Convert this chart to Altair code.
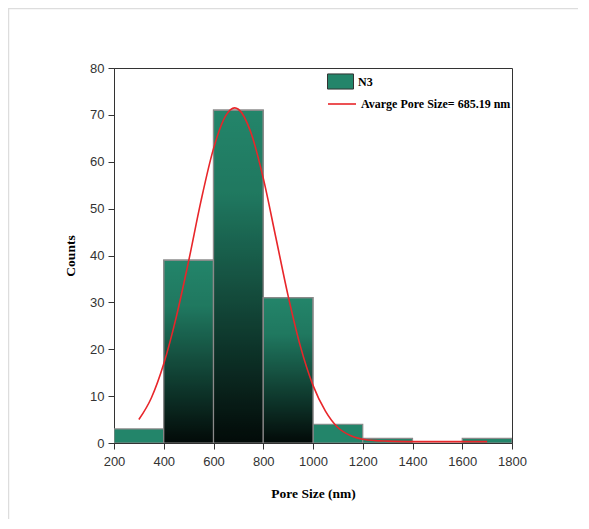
import altair as alt
import pandas as pd

# Histogram bins (nm) and counts
bin_start = [200, 400, 600, 800, 1000, 1200, 1400, 1600]
bin_end = [400, 600, 800, 1000, 1200, 1400, 1600, 1800]
counts = [3, 39, 71, 31, 4, 1, 0, 1]

# Fitted curve
curve_x = [300, 350, 400, 450, 500, 550, 600, 650, 685, 700, 750, 800, 850,
           900, 950, 1000, 1050, 1100, 1150, 1200, 1250, 1300, 1400, 1500, 1600, 1700]
curve_y = [5.0, 9.6, 16.9, 26.8, 38.8, 51.7, 62.8, 69.9, 71.5, 71.2, 66.3, 56.5, 44.0,
           31.4, 20.5, 12.3, 6.8, 3.3, 1.6, 0.8, 0.5, 0.4, 0.3, 0.3, 0.3, 0.3]

bar_name = "N3"
line_name = "Avarge Pore Size= 685.19 nm"

bars_df = pd.DataFrame({"x0": bin_start, "x1": bin_end, "count": counts,
                        "series": [bar_name] * len(counts)})
curve_df = pd.DataFrame({"x": curve_x, "y": curve_y,
                         "series": [line_name] * len(curve_x)})

W, H = 398, 375

xscale = alt.Scale(domain=[200, 1800], nice=False, zero=False)
yscale = alt.Scale(domain=[0, 80], nice=False)

xaxis = alt.Axis(
    title="Pore Size (nm)",
    values=list(range(200, 1801, 100)),
    labelExpr="datum.value % 200 == 0 ? datum.label : ''",
    tickSize={"condition": {"test": "datum.value % 200 == 0", "value": 6}, "value": 3},
    labelPadding=6,
    grid=False,
    labelOverlap=False,
    labelFlush=False,
    format="d",
    titlePadding=18,
)
yaxis = alt.Axis(
    title="Counts",
    values=list(range(0, 81, 5)),
    labelExpr="datum.value % 10 == 0 ? datum.label : ''",
    tickSize={"condition": {"test": "datum.value % 10 == 0", "value": 6}, "value": 3},
    labelPadding=4,
    grid=False,
    labelOverlap=False,
    labelFlush=False,
    titlePadding=12,
)

base_bars = alt.Chart(bars_df).mark_bar(
    stroke="#8a8a8a", strokeWidth=1.2, clip=True
).encode(
    x=alt.X("x0:Q", scale=xscale, axis=xaxis),
    x2="x1:Q",
    y=alt.Y("count:Q", scale=yscale, axis=yaxis),
    y2=alt.datum(0),
    color=alt.Color(
        "series:N",
        scale=alt.Scale(domain=[bar_name], range=["#23856a"]),
        legend=alt.Legend(
            title=None,
            orient="none",
            legendX=213,
            legendY=0,
            padding=0,
            symbolType="M-1,-0.58L1,-0.58L1,0.58L-1,0.58Z",
            symbolSize=676,
            symbolStrokeColor="#333",
            symbolStrokeWidth=1,
            labelFont="Liberation Serif",
            labelFontWeight="bold",
            labelFontSize=12,
            labelColor="#000",
            labelOffset=4,
        ),
    ),
)

shade = alt.Chart(bars_df).mark_bar(
    stroke="#8a8a8a", strokeWidth=1.2, clip=True,
    color=alt.Gradient(
        gradient="linear", x1=0, y1=0, x2=0, y2=1,
        stops=[alt.GradientStop(offset=0, color="rgba(0,0,0,0)"),
               alt.GradientStop(offset=0.25, color="rgba(0,0,0,0.1)"),
               alt.GradientStop(offset=1, color="#000000")],
    ),
).encode(
    x="x0:Q",
    x2="x1:Q",
    y="count:Q",
    y2=alt.datum(0),
    opacity=alt.Opacity("count:Q", scale=alt.Scale(domain=[4, 30], range=[0, 0.92], clamp=True),
                        legend=None),
)

line = alt.Chart(curve_df).mark_line(strokeWidth=1.6, interpolate="monotone").encode(
    x="x:Q",
    y="y:Q",
    stroke=alt.Stroke(
        "series:N",
        scale=alt.Scale(domain=[line_name], range=["#e8262a"]),
        legend=alt.Legend(
            title=None,
            orient="none",
            legendX=213,
            legendY=21,
            padding=0,
            symbolType="stroke",
            symbolSize=784,
            symbolStrokeWidth=1.6,
            labelFont="Liberation Serif",
            labelFontWeight="bold",
            labelFontSize=12,
            labelColor="#000",
            labelOffset=4,
        ),
    ),
)

frame_df = pd.DataFrame({"k": [0]})
frame = alt.Chart(frame_df).mark_rect(
    filled=False, stroke="#dddddd", strokeWidth=1.5, clip=False
).encode(
    x=alt.value(-105.5), x2=alt.value(560), y=alt.value(-59.5), y2=alt.value(560)
)

chart = alt.layer(frame, base_bars, shade, line).resolve_scale(
    color="independent", stroke="independent"
).properties(
    width=W, height=H,
    autosize=alt.AutoSizeParams(type="none"),
    padding={"left": 106, "top": 60, "right": 66, "bottom": 76},
).configure_view(
    stroke="#333", strokeWidth=1
).configure_axis(
    labelFont="Liberation Sans",
    labelFontSize=13,
    labelColor="#333",
    titleFont="Liberation Serif",
    titleFontWeight="bold",
    titleFontSize=13.5,
    titleColor="#000",
    domainColor="#333",
    tickColor="#333",
    domainWidth=1,
    tickWidth=1,
)

chart.save("out.html", embed_options={"renderer": "svg", "actions": False})
